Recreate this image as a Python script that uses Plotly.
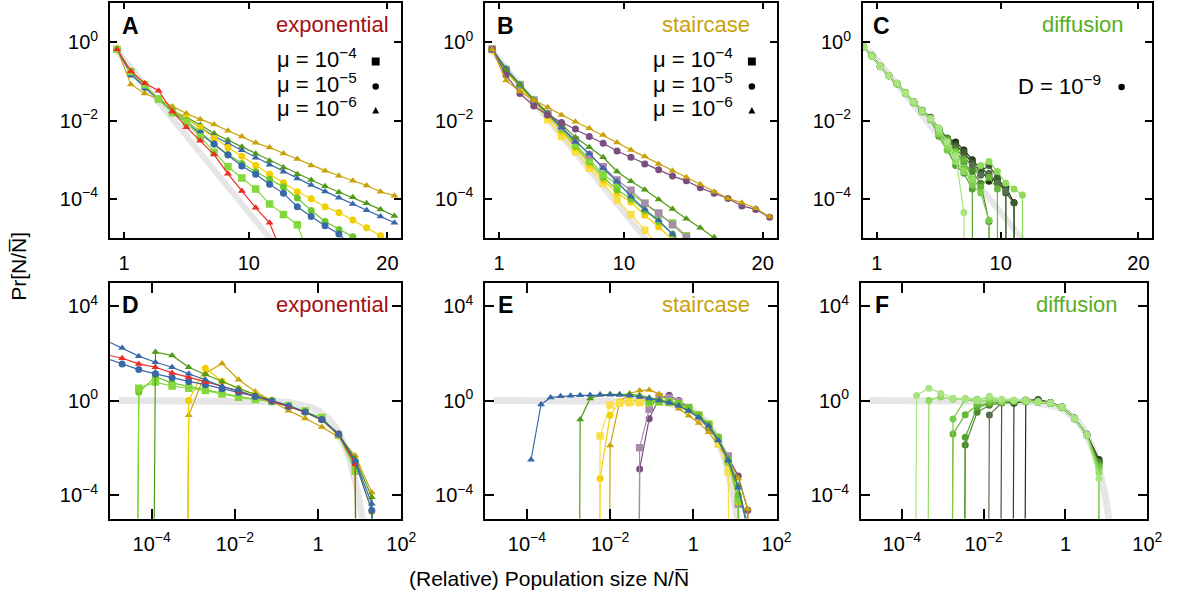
import plotly.graph_objects as go

W, H = 1184, 597
Z = -100  # empty bin (zero probability): drawn far below the axis -> vertical drop

# ---------------- top row: linear x, log10 of probability ----------------
X_AB = [0.5, 1.5, 2.5, 3.5, 4.5, 5.5, 6.5, 7.5, 8.5, 9.5, 10.5, 11.5, 12.5, 13.5, 14.5,
        15.5, 16.5, 17.5, 18.5, 19.5, 20.5]

A_RED_TRI = [-0.18, -0.74, -1.05, -1.24, -1.77, -2.17, -2.52, -2.87, -3.36, -3.80, -4.23, -4.61, -5.50]
A_LIME_SQ = [-0.18, -0.75, -1.09, -1.46, -1.80, -2.05, -2.42, -2.81, -3.18, -3.47, -3.75, -4.13, -4.40, -4.66, -5.60]
A_BLUE_CIRC = [-0.18, -0.82, -1.15, -1.46, -1.78, -2.06, -2.33, -2.60, -2.88, -3.16, -3.37, -3.63, -3.86, -4.20,
               -4.45, -4.69, -4.90, -5.25]
A_GREEN_CIRC = [-0.18, -0.80, -1.14, -1.45, -1.76, -2.00, -2.30, -2.60, -2.87, -3.10, -3.31, -3.50, -3.69, -3.98,
                -4.30, -4.58, -4.78, -4.97, -5.25]
A_YELLOW_CIRC = [-0.18, -0.80, -1.15, -1.45, -1.76, -1.93, -2.18, -2.45, -2.69, -2.91, -3.15, -3.37, -3.59, -3.82,
                 -4.00, -4.20, -4.35, -4.54, -4.74, -4.94, -5.15]
A_BLUE_TRI = [-0.18, -0.80, -1.15, -1.45, -1.76, -1.95, -2.17, -2.40, -2.58, -2.76, -2.95, -3.13, -3.31, -3.48,
              -3.65, -3.81, -3.97, -4.13, -4.29, -4.45, -4.61]
A_DGREEN_TRI = [-0.18, -0.80, -1.15, -1.45, -1.75, -1.92, -2.11, -2.33, -2.50, -2.67, -2.85, -3.03, -3.20, -3.37,
                -3.52, -3.68, -3.83, -3.96, -4.11, -4.27, -4.44]
A_GOLD_TRI = [-0.16, -1.08, -1.31, -1.45, -1.64, -1.82, -1.97, -2.10, -2.26, -2.41, -2.57, -2.69, -2.84, -2.98,
              -3.15, -3.28, -3.41, -3.54, -3.66, -3.82, -3.92]

B_GOLD_TRI = [-0.18, -0.98, -1.26, -1.48, -1.66, -1.86, -2.03, -2.20, -2.37, -2.56, -2.75, -2.92, -3.11, -3.28,
              -3.45, -3.63, -3.82, -3.99, -4.10, -4.24, -4.46]
B_PURPLE_CIRC = [-0.18, -0.84, -1.31, -1.63, -1.86, -2.05, -2.22, -2.41, -2.58, -2.78, -2.94, -3.11, -3.26, -3.42,
                 -3.54, -3.72, -3.86, -3.99, -4.18, -4.27, -4.47]
B_DGREEN_TRI = [-0.18, -0.72, -1.10, -1.47, -1.80, -2.10, -2.43, -2.68, -2.94, -3.30, -3.55, -3.77, -4.02, -4.26,
                -4.51, -4.74, -4.98, -5.25]
B_MAUVE_SQ = [-0.18, -0.72, -1.10, -1.48, -1.82, -2.15, -2.50, -2.88, -3.18, -3.52, -3.78, -4.11, -4.36, -4.66,
              -4.98, -5.30]
B_LIME_SQ = [-0.18, -0.70, -1.08, -1.48, -1.83, -2.18, -2.60, -3.00, -3.38, -3.62, -3.86, -4.12, -4.40, -4.62,
             -4.94, -5.30]
B_BLUE_TRI = [-0.18, -0.67, -1.08, -1.47, -1.82, -2.17, -2.54, -2.84, -3.22, -3.56, -3.94, -4.27, -4.55, -4.90, -5.30]
B_GREEN_CIRC = [-0.18, -0.72, -1.10, -1.48, -1.85, -2.22, -2.65, -3.05, -3.45, -3.77, -4.00, -4.30, -4.58, -4.90, -5.30]
B_YELLOW_CIRC = [-0.18, -0.75, -1.12, -1.50, -1.88, -2.28, -2.70, -3.12, -3.52, -3.85, -4.08, -4.42, -4.72, -5.05]
B_YELLOW_SQ = [-0.20, -0.78, -1.15, -1.55, -1.98, -2.41, -2.80, -3.22, -3.60, -4.03, -4.40, -4.80, -5.20]

X_C = [0.05, 0.66, 1.26, 1.87, 2.48, 3.09, 3.69, 4.30, 4.91, 5.51, 6.12, 6.73, 7.33, 7.94, 8.55, 9.15, 9.76,
       10.37, 10.97, 11.58, 12.19]
C_SERIES = [  # lightest -> darkest
    [-0.11, -0.36, -0.63, -0.86, -1.05, -1.30, -1.52, -1.76, -1.96, -2.20, -2.55, -2.90, -4.35, Z],
    [-0.12, -0.35, -0.62, -0.85, -1.07, -1.31, -1.54, -1.75, -1.95, -2.30, -2.65, -3.05, -3.30, -3.50, -3.15,
     -3.05, -3.30, -3.60, -3.75, -3.90, Z],
    [-0.11, -0.36, -0.61, -0.86, -1.06, -1.29, -1.53, -1.77, -1.97, -2.35, -2.75, -2.80, -3.20, -3.65, -3.85,
     -4.55, Z],
    [-0.12, -0.35, -0.63, -0.85, -1.06, -1.30, -1.55, -1.76, -1.94, -2.25, -2.50, -2.85, -3.00, -3.50, -3.70,
     -3.45, -3.75, Z],
    [-0.11, -0.36, -0.62, -0.86, -1.07, -1.31, -1.53, -1.78, -1.98, -2.40, -2.75, -3.15, -3.35, -3.75, Z],
    [-0.12, -0.35, -0.62, -0.85, -1.06, -1.30, -1.54, -1.74, -1.95, -2.20, -2.45, -2.75, -3.10, -3.30, -3.60,
     -4.58, Z],
    [-0.11, -0.35, -0.62, -0.86, -1.06, -1.30, -1.52, -1.75, -1.93, -2.25, -2.50, -2.70, -2.95, -3.15, -3.40,
     -3.35, -3.60, -3.80, Z],
    [-0.12, -0.36, -0.63, -0.85, -1.05, -1.29, -1.53, -1.74, -1.92, -2.20, -2.45, -2.65, -2.80, -3.10, -3.30,
     -3.15, -3.45, -3.85, -4.10, Z],
    [-0.11, -0.35, -0.62, -0.85, -1.06, -1.30, -1.53, -1.75, -1.94, -2.30, -2.50, -2.60, -2.85, -3.05, -3.20,
     -3.40, -3.60, -3.75, Z],
    [-0.12, -0.36, -0.62, -0.86, -1.06, -1.30, -1.54, -1.76, -1.95, -2.25, -2.45, -2.55, -2.75, -3.00, -3.25,
     -3.55, -3.50, -3.70, -4.10, Z],
]

# reference curve (grey)
REF_TOP_X = [0.45, 11.6]
REF_TOP_LOGY = [-0.20, -5.04]
REF_BOT_X = [1.6e-5, 1e-3, 0.01, 0.05, 0.1, 0.2, 0.4, 0.7, 1, 1.5, 2, 3, 4, 5, 6, 7, 8, 9, 10, 11, 12]
REF_BOT_Y = [1, 0.999, 0.99, 0.951, 0.905, 0.819, 0.670, 0.497, 0.368, 0.223, 0.135, 0.0498, 0.0183, 6.74e-3,
             2.48e-3, 9.1e-4, 3.35e-4, 1.23e-4, 4.54e-5, 1.67e-5, 6.1e-6]

# ---------------- bottom row: log10 x, log10 probability ----------------
D_LOGX = [-5.11, -4.71, -4.31, -3.91, -3.51, -3.11, -2.71, -2.31, -1.91, -1.51, -1.11, -0.71, -0.31, 0.09,
          0.49, 0.89, 1.29, 1.69]
D_BLUE_TRI = [2.55, 2.22, 1.88, 1.62, 1.41, 1.13, 0.88, 0.59, 0.42, 0.17, 0.00, -0.21, -0.49, -0.82, -1.44,
              -2.54, -4.38, Z]
D_RED_TRI = [1.95, 1.79, 1.55, 1.41, 1.17, 0.99, 0.78, 0.61, 0.38, 0.18, -0.03, -0.25, -0.49, -0.82, -1.44,
             -2.70, Z, None]
D_BLUE_CIRC = [1.80, 1.55, 1.31, 1.13, 0.96, 0.81, 0.67, 0.50, 0.35, 0.17, -0.03, -0.25, -0.49, -0.80, -1.42,
               -2.62, -4.66, Z]
D_DGREEN_TRI = [None, None, Z, 2.05, 1.91, 1.41, 1.10, 0.80, 0.52, 0.25, 0.00, -0.25, -0.50, -0.82, -1.40,
                -2.47, -4.10, Z]
D_LIME_SQ = [None, Z, 0.52, 0.78, 0.61, 0.52, 0.42, 0.28, 0.14, 0.04, -0.04, -0.21, -0.45, -0.72, -1.45,
             -3.00, Z, None]
D_GREEN_CIRC = [None, Z, 0.35, 1.00, 0.75, 0.60, 0.45, 0.30, 0.17, 0.06, -0.03, -0.22, -0.47, -0.80, -1.45,
                -2.80, Z, None]
D_YELLOW_CIRC = [None, None, None, None, Z, 0.00, 1.37, 0.82, 0.50, 0.25, 0.02, -0.23, -0.50, -0.82, -1.50,
                 -2.60, -4.70, Z]
D_GOLD_TRI = [None, None, None, None, Z, -0.63, 1.15, 1.57, 0.88, 0.38, -0.02, -0.43, -0.76, -1.12, -1.55,
              -2.33, -3.90, Z]

E_LOGX = [-3.90, -3.66, -3.43, -3.19, -2.95, -2.72, -2.48, -2.24, -2.00, -1.77, -1.53, -1.29, -1.06, -0.82,
          -0.58, -0.35, -0.11, 0.13, 0.37, 0.60, 0.84, 1.08, 1.31, 1.55]
E_BLUE_TRI = [-2.51, -0.17, 0.13, 0.18, 0.20, 0.22, 0.23, 0.24, 0.24, 0.23, 0.20, 0.15, 0.08, 0.00, -0.10,
              -0.22, -0.43, -0.71, -1.07, -1.70, -2.55, -3.70, -5.50, None]
E_DGREEN_TRI = [None, None, None, None, Z, -0.81, 0.09, 0.24, 0.26, 0.27, 0.26, 0.22, 0.12, 0.03, -0.08,
                -0.22, -0.45, -0.72, -1.10, -1.68, -2.50, -3.60, -5.30, None]
E_YELLOW_SQ = [None] * 6 + [Z, -1.50, -0.19, -0.12, -0.10, -0.10, -0.08, -0.06, -0.08, -0.15, -0.35, -0.62,
                            -1.00, -1.85, -3.04, Z, None, None]
E_YELLOW_CIRC = [None] * 6 + [Z, -3.30, -0.63, -0.05, 0.00, 0.02, 0.00, -0.03, -0.08, -0.18, -0.38, -0.66,
                              -1.05, -1.70, -2.70, -4.30, Z, None]
E_GOLD_TRI = [None] * 7 + [Z, -1.91, -0.05, 0.30, 0.42, 0.45, 0.28, -0.05, -0.35, -0.65, -0.95, -1.35, -1.90,
                           -2.50, -3.30, -4.60, Z]
E_PURPLE_CIRC = [None] * 10 + [Z, -2.90, -0.77, 0.10, 0.22, 0.00, -0.30, -0.70, -1.20, -1.70, -2.40, -3.20,
                               -4.65, Z]
E_MAUVE_SQ = [None] * 10 + [Z, -2.00, -0.37, 0.15, 0.12, -0.05, -0.30, -0.65, -1.05, -1.60, -2.35, -4.40, Z, None]
E_GREEN_CIRC = [None] * 12 + [-0.05, -0.02, -0.05, -0.12, -0.30, -0.60, -1.00, -1.55, -2.50, -4.00, Z, None]
E_LIME_SQ = [None] * 12 + [-0.10, -0.05, -0.07, -0.15, -0.33, -0.62, -1.02, -1.60, -2.60, -4.20, Z, None]

F_LOGX = [-3.94, -3.64, -3.34, -3.05, -2.75, -2.45, -2.16, -1.86, -1.56, -1.26, -0.97, -0.67, -0.37, -0.08,
          0.22, 0.52, 0.82, 1.11]
F_SERIES = [  # lightest -> darkest
    [Z, 0.21, 0.52, 0.30, 0.10, 0.06, 0.00, 0.18, 0.05, 0.02, 0.00, -0.05, -0.10, -0.28, -0.75, -1.45, -3.30, Z],
    [None, Z, 0.00, 0.15, 0.05, 0.08, 0.05, 0.10, -0.02, 0.00, -0.02, -0.06, -0.12, -0.28, -0.77, -1.47, -3.05, Z],
    [None, None, None, Z, -0.78, 0.05, -0.05, 0.00, -0.05, 0.00, -0.04, -0.08, -0.12, -0.30, -0.76, -1.46, -2.90, Z],
    [None, None, None, Z, -1.42, -0.60, -0.20, -0.10, -0.06, -0.03, -0.03, -0.07, -0.13, -0.29, -0.75, -1.45, -2.80, Z],
    [None, None, None, None, Z, -1.56, -0.30, -0.12, -0.05, -0.04, 0.00, -0.06, -0.12, -0.30, -0.78, -1.47, -2.75, Z],
    [None, None, None, None, Z, -1.89, -0.50, -0.20, -0.10, -0.02, 0.02, -0.06, -0.12, -0.30, -0.77, -1.46, -2.65, Z],
    [None] * 6 + [Z, -0.61, -0.10, -0.05, -0.02, 0.03, -0.10, -0.30, -0.76, -1.45, -2.62, Z],
    [None] * 7 + [Z, -0.08, -0.10, -0.04, 0.00, -0.10, -0.30, -0.76, -1.45, -2.60, Z],
    [None] * 8 + [Z, -0.12, 0.00, 0.02, -0.10, -0.28, -0.75, -1.44, -2.55, Z],
    [None] * 9 + [Z, -0.02, 0.04, -0.08, -0.27, -0.74, -1.43, -2.50, Z],
]
GREENS = ["#a9e480", "#8fda5c", "#79cc45", "#67b83a", "#57a033", "#4a872d", "#55704a", "#3c5d2d",
          "#2d4723", "#1e3317"]

RED, LIME, BLUE, GREENC = "#ee2b24", "#83d93b", "#3868a8", "#6cc72c"
YELLOW, DGREEN, GOLD = "#f2cf00", "#4f9a17", "#c9a208"
PURPLE, MAUVE, YSQ = "#7a4e82", "#a88aab", "#f8df48"
GREY = "#e6e6e6"
FONT = "Liberation Sans, Arial, sans-serif"

fig = go.Figure()


def pts(xs, logs, xlog=False):
    px, py = [], []
    for x, v in zip(xs, logs):
        if v is None:
            continue
        px.append(10 ** x if xlog else x)
        py.append(10 ** v)
    return px, py


def add(xs, logs, color, symbol, size, ax, xlog=False, lw=1.2):
    px, py = pts(xs, logs, xlog)
    sfx = "" if ax == 1 else str(ax)
    fig.add_trace(go.Scatter(x=px, y=py, mode="lines+markers", xaxis="x" + sfx, yaxis="y" + sfx,
                             line=dict(color=color, width=lw),
                             marker=dict(color=color, symbol=symbol, size=size, line=dict(width=0)),
                             showlegend=False, hoverinfo="skip"))


SQ, CI, TR = ("square", 7.5), ("circle", 7), ("triangle-up", 7)

# reference grey lines
for ax in (1, 2, 3):
    sfx = "" if ax == 1 else str(ax)
    fig.add_trace(go.Scatter(x=REF_TOP_X, y=[10 ** v for v in REF_TOP_LOGY], mode="lines",
                             xaxis="x" + sfx, yaxis="y" + sfx, line=dict(color=GREY, width=6),
                             showlegend=False, hoverinfo="skip"))
for ax in (4, 5, 6):
    fig.add_trace(go.Scatter(x=REF_BOT_X, y=REF_BOT_Y, mode="lines", xaxis="x%d" % ax, yaxis="y%d" % ax,
                             line=dict(color=GREY, width=7), showlegend=False, hoverinfo="skip"))

# panel A
for ys, c, m in [(A_GOLD_TRI, GOLD, TR), (A_DGREEN_TRI, DGREEN, TR), (A_BLUE_TRI, BLUE, TR),
                 (A_YELLOW_CIRC, YELLOW, CI), (A_GREEN_CIRC, GREENC, CI), (A_BLUE_CIRC, BLUE, CI),
                 (A_LIME_SQ, LIME, SQ), (A_RED_TRI, RED, TR)]:
    add(X_AB, ys, c, m[0], m[1], 1)
# panel B
for ys, c, m in [(B_YELLOW_SQ, YSQ, SQ), (B_YELLOW_CIRC, YELLOW, CI), (B_GREEN_CIRC, GREENC, CI),
                 (B_LIME_SQ, LIME, SQ), (B_MAUVE_SQ, MAUVE, SQ), (B_BLUE_TRI, BLUE, TR),
                 (B_DGREEN_TRI, DGREEN, TR), (B_PURPLE_CIRC, PURPLE, CI), (B_GOLD_TRI, GOLD, TR)]:
    add(X_AB, ys, c, m[0], m[1], 2)
# panel C (darkest first, lightest on top)
for i in range(len(C_SERIES) - 1, -1, -1):
    add(X_C, C_SERIES[i], GREENS[i], "circle", 7, 3)
# panel D
for ys, c, m in [(D_GOLD_TRI, GOLD, TR), (D_YELLOW_CIRC, YELLOW, CI), (D_GREEN_CIRC, GREENC, CI),
                 (D_LIME_SQ, LIME, SQ), (D_DGREEN_TRI, DGREEN, TR), (D_BLUE_CIRC, BLUE, CI),
                 (D_RED_TRI, RED, TR), (D_BLUE_TRI, BLUE, TR)]:
    add(D_LOGX, ys, c, m[0], m[1], 4, xlog=True)
# panel E
for ys, c, m in [(E_PURPLE_CIRC, PURPLE, CI), (E_MAUVE_SQ, MAUVE, SQ), (E_GOLD_TRI, GOLD, TR),
                 (E_YELLOW_CIRC, YELLOW, CI), (E_YELLOW_SQ, YSQ, SQ), (E_LIME_SQ, LIME, SQ),
                 (E_GREEN_CIRC, GREENC, CI), (E_DGREEN_TRI, DGREEN, TR), (E_BLUE_TRI, BLUE, TR)]:
    add(E_LOGX, ys, c, m[0], m[1], 5, xlog=True)
# panel F
for i in range(len(F_SERIES) - 1, -1, -1):
    add(F_LOGX, F_SERIES[i], GREENS[i], "circle", 7, 6, xlog=True)

# ---------------- axes ----------------
COLS_TOP = [(111.5, 406.5), (491.5, 786.5), (874.0, 1167.0)]
COLS_BOT = [(111.5, 406.5), (491.5, 786.5), (872.0, 1162.0)]
ROW_TOP = (3.0, 238.0)
ROW_BOT = (282.5, 518.5)


def xdom(c):
    return [c[0] / W, c[1] / W]


def ydom(r):
    return [1 - r[1] / H, 1 - r[0] / H]


common = dict(showline=True, linecolor="black", linewidth=2, mirror="ticks", ticks="inside",
              tickwidth=1.6, tickcolor="black", showgrid=False, zeroline=False,
              tickfont=dict(family=FONT, size=20, color="black"))

TOPX = dict(type="linear", range=[0, 21], tickvals=[1, 10, 20], ticktext=["1", "10", "20"], ticklen=6)
TOPY = dict(type="log", range=[-5, 1], tickvals=[1, 1e-2, 1e-4], ticklen=7,
            ticktext=["10<sup>0</sup>", "10<sup>−2</sup>", "10<sup>−4</sup>"])
BOTX = dict(type="log", range=[-5, 2], tickvals=[1e-4, 1e-2, 1, 100], ticklen=10,
            ticktext=["10<sup>−4</sup>", "10<sup>−2</sup>", "1", "10<sup>2</sup>"])
BOTY = dict(type="log", range=[-5, 5], tickvals=[1e4, 1, 1e-4], ticklen=9,
            ticktext=["10<sup>4</sup>", "10<sup>0</sup>", "10<sup>−4</sup>"])

layout = {}
for i in range(3):
    a, b = i + 1, i + 4
    sa = "" if a == 1 else str(a)
    layout["xaxis" + sa] = dict(common, domain=xdom(COLS_TOP[i]), anchor="y" + sa, ticklabelstandoff=6, **TOPX)
    layout["yaxis" + sa] = dict(common, domain=ydom(ROW_TOP), anchor="x" + sa, ticklabelstandoff=6, **TOPY)
    layout["xaxis%d" % b] = dict(common, domain=xdom(COLS_BOT[i]), anchor="y%d" % b, ticklabelstandoff=6, **BOTX)
    layout["yaxis%d" % b] = dict(common, domain=ydom(ROW_BOT), anchor="x%d" % b, ticklabelstandoff=6, **BOTY)

fig.update_layout(width=W, height=H, margin=dict(l=0, r=0, t=0, b=0), paper_bgcolor="white",
                  plot_bgcolor="white", showlegend=False, font=dict(family=FONT, color="black"), **layout)


def ann(text, x, y, size, color="black", xanchor="center", bold=False, angle=0):
    fig.add_annotation(text=("<b>%s</b>" % text) if bold else text, x=x / W, y=1 - y / H, xref="paper",
                       yref="paper", showarrow=False, xanchor=xanchor, yanchor="middle", textangle=angle,
                       font=dict(family=FONT, size=size, color=color))


LETTERS = ["A", "B", "C", "D", "E", "F"]
LX = [132, 512, 893, 132, 512, 893]
LY = [26, 26, 26, 305, 305, 305]
for t, x, y in zip(LETTERS, LX, LY):
    ann(t, x, y, 23, bold=True)

NAMES = ["exponential", "staircase", "diffusion"]
NAME_COLORS = ["#a50f0f", "#c9a208", "#5aad1e"]
NAME_RIGHT_TOP = [396, 762, 1140]
NAME_RIGHT_BOT = [396, 762, 1134]
for n, c, xt, xb in zip(NAMES, NAME_COLORS, NAME_RIGHT_TOP, NAME_RIGHT_BOT):
    ann(n, xt, 25, 22, color=c, xanchor="right")
    ann(n, xb, 304, 22, color=c, xanchor="right")

MU_LABELS = ["μ = 10<sup>−4</sup>", "μ = 10<sup>−5</sup>", "μ = 10<sup>−6</sup>"]
MU_Y = [58, 83, 107]
for right, mx in [(364, 380.5), (744, 761.5)]:
    for lab, y in zip(MU_LABELS, MU_Y):
        ann(lab, right, y, 22, xanchor="right")
    my = [61.5, 86.5, 110.5]
    fig.add_shape(type="rect", xref="paper", yref="paper", x0=(mx - 4) / W, x1=(mx + 4) / W,
                  y0=1 - (my[0] + 4) / H, y1=1 - (my[0] - 4) / H, fillcolor="black", line=dict(width=0))
    fig.add_shape(type="circle", xref="paper", yref="paper", x0=(mx - 3.3) / W, x1=(mx + 3.3) / W,
                  y0=1 - (my[1] + 3.3) / H, y1=1 - (my[1] - 3.3) / H, fillcolor="black", line=dict(width=0))
    fig.add_shape(type="path", xref="paper", yref="paper", fillcolor="black", line=dict(width=0),
                  path="M %f,%f L %f,%f L %f,%f Z" % ((mx - 3.5) / W, 1 - (my[2] + 3) / H,
                                                      (mx + 3.5) / W, 1 - (my[2] + 3) / H,
                                                      mx / W, 1 - (my[2] - 3.5) / H))
ann("D = 10<sup>−9</sup>", 1117, 85, 22, xanchor="right")
fig.add_shape(type="circle", xref="paper", yref="paper", x0=(1136 - 3.3) / W, x1=(1136 + 3.3) / W,
              y0=1 - (87 + 3.3) / H, y1=1 - (87 - 3.3) / H, fillcolor="black", line=dict(width=0))

ann("(Relative) Population size N/N\u0305", 556, 578, 21)
ann("Pr[N/N\u0305]", 18, 266, 21, angle=-90)

fig.write_html("out.html")
